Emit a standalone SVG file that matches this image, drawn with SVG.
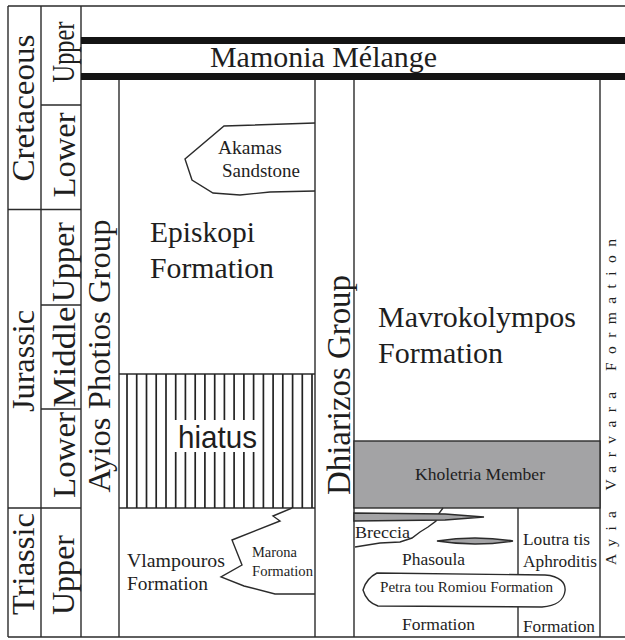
<svg xmlns="http://www.w3.org/2000/svg" width="625" height="640" viewBox="0 0 625 640">
<style>
.ln{stroke:#2b2b2b;stroke-width:1.4;fill:none}
.t{font-family:"Liberation Serif","Times New Roman",serif;fill:#1e1e1e}
.s{font-family:"Liberation Sans",Arial,sans-serif;fill:#1e1e1e}
.bar{fill:#141414}
.hatch{stroke:#222;stroke-width:1.7}
.gray{fill:#a3a3a5;stroke:#2b2b2b;stroke-width:1.4}
.wh{fill:#fff;stroke:#2b2b2b;stroke-width:1.4}
</style>
<rect width="625" height="640" fill="#fff"/>

<g id="frame">
<path class="ln" d="M8,6 H625 M8,637 H625 M8,6 V637 M41,6 V637 M81,6 V637 M119,80 V637 M315,80 V637 M354,80 V637 M600,80 V637"/>
<path class="ln" d="M8,209.5 H81 M8,508 H81 M41,105 H81 M41,305 H81 M41,409 H81"/>
</g>

<g id="timescale">
<text class="t" font-size="32" text-anchor="middle" textLength="147" lengthAdjust="spacingAndGlyphs" transform="translate(34,108) rotate(-90)">Cretaceous</text>
<text class="t" font-size="32" text-anchor="middle" textLength="102" lengthAdjust="spacingAndGlyphs" transform="translate(34,361) rotate(-90)">Jurassic</text>
<text class="t" font-size="32" text-anchor="middle" textLength="102" lengthAdjust="spacingAndGlyphs" transform="translate(34,564) rotate(-90)">Triassic</text>
<text class="t" font-size="32" text-anchor="middle" textLength="61" lengthAdjust="spacingAndGlyphs" transform="translate(74,52) rotate(-90)">Upper</text>
<text class="t" font-size="32" text-anchor="middle" textLength="85" lengthAdjust="spacingAndGlyphs" transform="translate(75,155) rotate(-90)">Lower</text>
<text class="t" font-size="32" text-anchor="middle" textLength="80" lengthAdjust="spacingAndGlyphs" transform="translate(74,262) rotate(-90)">Upper</text>
<text class="t" font-size="32" text-anchor="middle" textLength="101" lengthAdjust="spacingAndGlyphs" transform="translate(75,357) rotate(-90)">Middle</text>
<text class="t" font-size="32" text-anchor="middle" textLength="86" lengthAdjust="spacingAndGlyphs" transform="translate(75,455) rotate(-90)">Lower</text>
<text class="t" font-size="32" text-anchor="middle" textLength="80" lengthAdjust="spacingAndGlyphs" transform="translate(74,575) rotate(-90)">Upper</text>
</g>

<g id="mamonia-melange">
<rect class="bar" x="81" y="37" width="544" height="7"/>
<rect class="bar" x="81" y="73" width="544" height="7"/>
<text class="t" x="210" y="67" font-size="30" textLength="227" lengthAdjust="spacingAndGlyphs">Mamonia Mélange</text>
</g>

<g id="ayios-photios-group">
<text class="t" font-size="32" text-anchor="middle" textLength="273" lengthAdjust="spacingAndGlyphs" transform="translate(110,356) rotate(-90)">Ayios Photios Group</text>
</g>

<g id="akamas-sandstone">
<polyline class="ln" points="315,123 224,126 185,159 192,180 213,193 240,195 270,192 315,191"/>
<text class="t" x="218" y="154" font-size="19.5">Akamas</text>
<text class="t" x="222" y="177" font-size="19" textLength="78" lengthAdjust="spacingAndGlyphs">Sandstone</text>
</g>

<g id="episkopi-formation">
<text class="t" x="150" y="242" font-size="29.5" textLength="105" lengthAdjust="spacingAndGlyphs">Episkopi</text>
<text class="t" x="150" y="278" font-size="29.5" textLength="124" lengthAdjust="spacingAndGlyphs">Formation</text>
</g>

<g id="hiatus">
<path class="ln" d="M119,374 H315 M119,508 H315"/>
<g class="hatch">
<line x1="127" y1="374" x2="127" y2="508"/>
<line x1="136.7" y1="374" x2="136.7" y2="508"/>
<line x1="146.5" y1="374" x2="146.5" y2="508"/>
<line x1="156.2" y1="374" x2="156.2" y2="508"/>
<line x1="166" y1="374" x2="166" y2="508"/>
<line x1="175.7" y1="374" x2="175.7" y2="508"/>
<line x1="185.4" y1="374" x2="185.4" y2="508"/>
<line x1="195.2" y1="374" x2="195.2" y2="508"/>
<line x1="204.9" y1="374" x2="204.9" y2="508"/>
<line x1="214.7" y1="374" x2="214.7" y2="508"/>
<line x1="224.4" y1="374" x2="224.4" y2="508"/>
<line x1="234.1" y1="374" x2="234.1" y2="508"/>
<line x1="243.9" y1="374" x2="243.9" y2="508"/>
<line x1="253.6" y1="374" x2="253.6" y2="508"/>
<line x1="263.4" y1="374" x2="263.4" y2="508"/>
<line x1="273.1" y1="374" x2="273.1" y2="508"/>
<line x1="282.8" y1="374" x2="282.8" y2="508"/>
<line x1="292.6" y1="374" x2="292.6" y2="508"/>
<line x1="302.3" y1="374" x2="302.3" y2="508"/>
<line x1="312" y1="374" x2="312" y2="508"/>
</g>
<rect x="172" y="420" width="87" height="32" fill="#fff"/>
<text class="s" x="178" y="448" font-size="32" textLength="79" lengthAdjust="spacingAndGlyphs">hiatus</text>
</g>

<g id="vlampouros-formation">
<text class="t" x="127" y="567" font-size="19.5" textLength="98" lengthAdjust="spacingAndGlyphs">Vlampouros</text>
<text class="t" x="127" y="590" font-size="19.5" textLength="81" lengthAdjust="spacingAndGlyphs">Formation</text>
</g>

<g id="marona-formation">
<polyline class="ln" stroke-width="1.8" points="292,508 273,516 280,521 232,540 242,565 221,577 244,586 275,594 315,594"/>
<text class="t" x="252" y="557" font-size="14.5" textLength="45" lengthAdjust="spacingAndGlyphs">Marona</text>
<text class="t" x="252" y="576" font-size="14.5" textLength="61" lengthAdjust="spacingAndGlyphs">Formation</text>
</g>

<g id="dhiarizos-group">
<text class="t" font-size="33" text-anchor="middle" textLength="220" lengthAdjust="spacingAndGlyphs" transform="translate(350,385) rotate(-90)">Dhiarizos Group</text>
</g>

<g id="mavrokolympos-formation">
<text class="t" x="378" y="327" font-size="30" textLength="198" lengthAdjust="spacingAndGlyphs">Mavrokolympos</text>
<text class="t" x="378" y="363" font-size="30" textLength="125" lengthAdjust="spacingAndGlyphs">Formation</text>
</g>

<g id="kholetria-member">
<rect class="gray" x="354" y="441" width="246" height="67"/>
<text class="t" x="415" y="480" font-size="17" textLength="130" lengthAdjust="spacingAndGlyphs">Kholetria Member</text>
</g>

<g id="breccia">
<polyline class="ln" points="443,508 437,516 436,521 428,527 420,532 412,538 400,542 380,543 355,547"/>
<path class="gray" d="M354,513 L445,514 L484,517 L445,520 L354,521 Z"/>
<text class="t" x="355" y="538" font-size="17" textLength="55" lengthAdjust="spacingAndGlyphs">Breccia</text>
</g>

<g id="phasoula-formation">
<path class="ln" d="M518,508 V637"/>
<path class="gray" d="M437,541 Q475,535 513,541 Q475,547 437,541 Z"/>
<text class="t" x="402" y="565" font-size="17.5" textLength="63" lengthAdjust="spacingAndGlyphs">Phasoula</text>
<text class="t" x="402" y="630" font-size="17.5" textLength="73" lengthAdjust="spacingAndGlyphs">Formation</text>
</g>

<g id="loutra-tis-aphroditis-formation">
<text class="t" x="523" y="545" font-size="17.5" textLength="67" lengthAdjust="spacingAndGlyphs">Loutra tis</text>
<text class="t" x="523" y="567" font-size="17.5" textLength="74" lengthAdjust="spacingAndGlyphs">Aphroditis</text>
<text class="t" x="523" y="632" font-size="17.5" textLength="72" lengthAdjust="spacingAndGlyphs">Formation</text>
</g>

<g id="petra-tou-romiou-formation">
<path class="wh" d="M363,590 C365,583 369,577 377,573 L545,575 C560,576 566,583 565,591 C564,600 556,606 542,607 L378,606 C369,603 365,597 363,590 Z"/>
<text class="t" x="380" y="592" font-size="15.2" textLength="173" lengthAdjust="spacingAndGlyphs">Petra tou Romiou Formation</text>
</g>

<g id="ayia-varvara-formation">
<text class="t" font-size="15.5" text-anchor="middle" textLength="326" lengthAdjust="spacing" transform="translate(616,402) rotate(-90)">Ayia Varvara Formation</text>
</g>

<g id="connectors"></g>
</svg>
